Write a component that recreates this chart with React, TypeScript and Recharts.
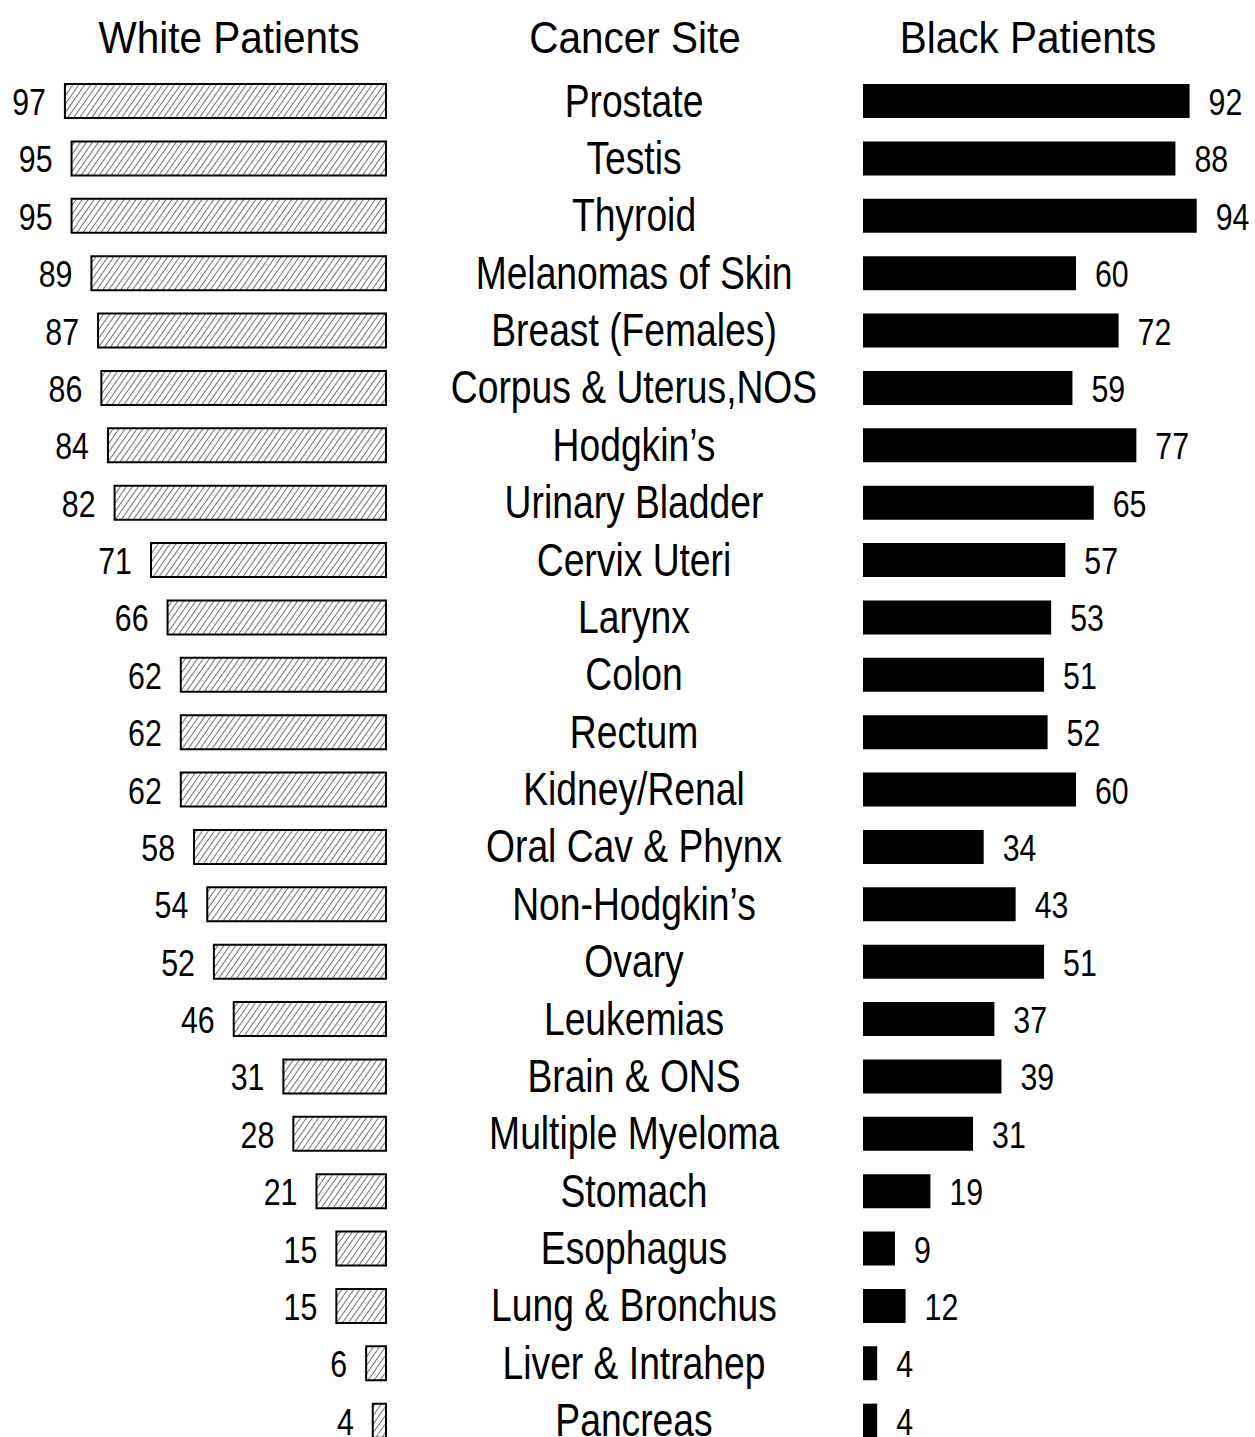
import { BarChart, Bar, XAxis, YAxis, LabelList } from 'recharts';

const sites = [
  'Prostate', 'Testis', 'Thyroid', 'Melanomas of Skin', 'Breast (Females)',
  'Corpus & Uterus,NOS', 'Hodgkin\u2019s', 'Urinary Bladder', 'Cervix Uteri', 'Larynx',
  'Colon', 'Rectum', 'Kidney/Renal', 'Oral Cav & Phynx', 'Non-Hodgkin\u2019s',
  'Ovary', 'Leukemias', 'Brain & ONS', 'Multiple Myeloma', 'Stomach',
  'Esophagus', 'Lung & Bronchus', 'Liver & Intrahep', 'Pancreas',
];

const whitePatients = [97, 95, 95, 89, 87, 86, 84, 82, 71, 66, 62, 62, 62, 58, 54, 52, 46, 31, 28, 21, 15, 15, 6, 4];
const blackPatients = [92, 88, 94, 60, 72, 59, 77, 65, 57, 53, 51, 52, 60, 34, 43, 51, 37, 39, 31, 19, 9, 12, 4, 4];

const titles = ['White Patients', 'Cancer Site', 'Black Patients'];

const data = sites.map((site, i) => ({ site, white: whitePatients[i], black: blackPatients[i] }));

// narrow look: Arial-metric font squeezed horizontally
const FONT = '"Liberation Sans", Arial, sans-serif';
const H = 1449;
const TOP = 72;

const Narrow = ({ x, y, size, sx, anchor, children }: any) => (
  <g transform={`translate(${x},${y}) scale(${sx},1)`}>
    <text x={0} y={0} textAnchor={anchor} dominantBaseline="central" fontFamily={FONT} fontSize={size} fill="#000">
      {children}
    </text>
  </g>
);

const SiteTick = (props: any) => {
  const { x, y, payload } = props;
  return <Narrow x={x + 248} y={y} size={46} sx={0.81} anchor="middle">{payload.value}</Narrow>;
};

const WhiteLabel = (props: any) => {
  const { x, y, width, height, value } = props;
  const left = Math.min(x, x + width);
  return <Narrow x={left - 19} y={y + height / 2 + 1} size={37} sx={0.82} anchor="end">{value}</Narrow>;
};

const BlackLabel = (props: any) => {
  const { x, y, width, height, value } = props;
  const right = Math.max(x, x + width);
  return <Narrow x={right + 19} y={y + height / 2 + 1} size={37} sx={0.82} anchor="start">{value}</Narrow>;
};

export default function App() {
  return (
    <div style={{ position: 'absolute', left: 0, top: 0, width: 1255, height: H, background: '#fff' }}>
      <svg width={1255} height={70} style={{ position: 'absolute', left: 0, top: 0 }}>
        <g transform="translate(229,53) scale(0.9,1)">
          <text textAnchor="middle" fontFamily={FONT} fontSize={45}>{titles[0]}</text>
        </g>
        <g transform="translate(635,53) scale(0.9,1)">
          <text textAnchor="middle" fontFamily={FONT} fontSize={45}>{titles[1]}</text>
        </g>
        <g transform="translate(1028,53) scale(0.9,1)">
          <text textAnchor="middle" fontFamily={FONT} fontSize={45}>{titles[2]}</text>
        </g>
      </svg>
      <div style={{ position: 'absolute', left: 0, top: 0, display: 'flex' }}>
        <BarChart layout="vertical" width={863} height={H} data={data}
          margin={{ top: TOP, right: 0, bottom: 0, left: 55 }} barCategoryGap={0}>
          <defs>
            <pattern id="hatch" patternUnits="userSpaceOnUse" width={4.9} height={4.9} patternTransform="rotate(35)">
              <rect width={4.9} height={4.9} fill="#fff" />
              <line x1={0} y1={0} x2={0} y2={4.9} stroke="#000" strokeWidth={1.1} />
            </pattern>
          </defs>
          <XAxis type="number" domain={[0, 100]} reversed hide />
          <YAxis type="category" dataKey="site" orientation="right" width={477}
            axisLine={false} tickLine={false} tickSize={0} tickMargin={0} interval={0} tick={<SiteTick />} />
          <Bar dataKey="white" barSize={34} fill="url(#hatch)" stroke="#000" strokeWidth={2} isAnimationActive={false}>
            <LabelList dataKey="white" content={<WhiteLabel />} />
          </Bar>
        </BarChart>
        <BarChart layout="vertical" width={392} height={H} data={data}
          margin={{ top: TOP, right: 37, bottom: 0, left: 0 }}>
          <XAxis type="number" domain={[0, 100]} hide />
          <YAxis type="category" dataKey="site" hide />
          <Bar dataKey="black" barSize={34} fill="#000" isAnimationActive={false}>
            <LabelList dataKey="black" content={<BlackLabel />} />
          </Bar>
        </BarChart>
      </div>
    </div>
  );
}
